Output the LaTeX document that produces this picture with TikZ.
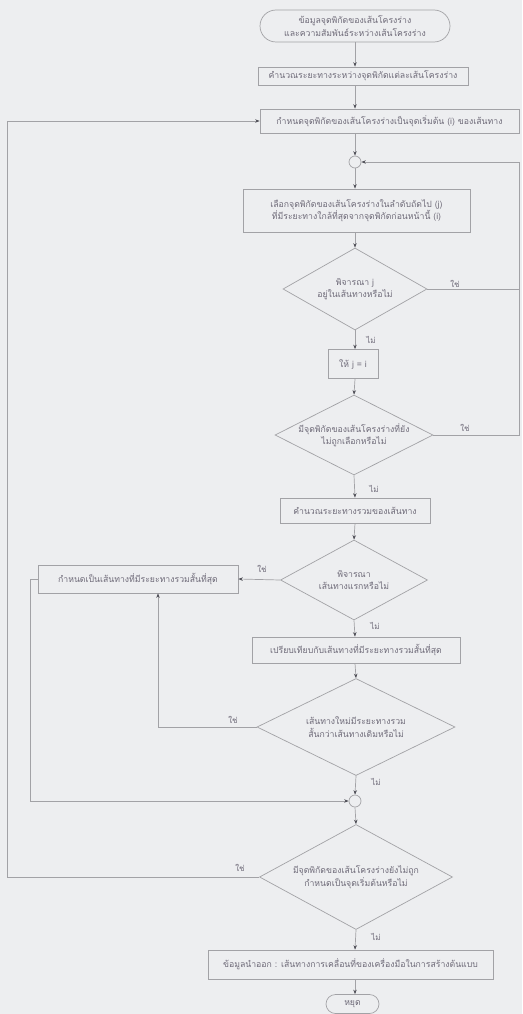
\documentclass[tikz,border=0pt]{standalone}
\usepackage{fontspec}
\newfontfamily\thai[Script=Thai]{Loma}
\usetikzlibrary{shapes.geometric,shapes.misc,arrows.meta}
\definecolor{bg}{HTML}{EDEEF0}
\definecolor{ln}{HTML}{A2A2A6}
\definecolor{tx}{HTML}{6E6A78}
\definecolor{ah}{HTML}{505058}
\begin{document}
\begin{tikzpicture}[x=1pt,y=-1pt,
  every node/.style={font=\thai\fontsize{8.7}{12.5}\selectfont, text=tx, inner sep=0pt, align=center},
  proc/.style={draw=ln, line width=0.7pt, rectangle},
  term/.style={draw=ln, line width=0.7pt, rounded rectangle},
  dec/.style={draw=ln, line width=0.7pt, diamond, inner xsep=-36pt, inner ysep=-9pt},
  conn/.style={draw=ln, line width=0.7pt, circle, minimum size=12pt},
  lab/.style={font=\thai\fontsize{8}{9}\selectfont},
  line/.style={draw=ln, line width=0.7pt},
  arr/.style={line, -{Stealth[length=4.5pt,width=3.5pt,color=ah]}}
]
\fill[bg] (0,0) rectangle (522,1014);
\useasboundingbox (0,0) rectangle (522,1014);

\coordinate (fx) at (355,0);
\coordinate (lx) at (7,0);
\coordinate (rx) at (519,0);
\coordinate (mx) at (30,0);
\coordinate (bx) at (158,0);

\node[term, minimum width=190pt, minimum height=32pt] (S) at (355,26) {ข้อมูลจุดพิกัดของเส้นโครงร่าง\\และความสัมพันธ์ระหว่างเส้นโครงร่าง};
\node[proc, minimum width=210pt, minimum height=18pt] (B2) at (363,76) {คำนวณระยะทางระหว่างจุดพิกัดแต่ละเส้นโครงร่าง};
\node[proc, minimum width=259pt, minimum height=24pt] (B3) at (389.5,121) {กำหนดจุดพิกัดของเส้นโครงร่างเป็นจุดเริ่มต้น (i) ของเส้นทาง};
\node[conn] (C1) at (355,162) {};
\node[proc, minimum width=227pt, minimum height=43pt] (B5) at (356.5,210.5) {เลือกจุดพิกัดของเส้นโครงร่างในลำดับถัดไป (j)\\ที่มีระยะทางใกล้ที่สุดจากจุดพิกัดก่อนหน้านี้ (i)};
\node[dec, minimum width=144pt, minimum height=82pt] (D1) at (355,289) {พิจารณา j\\อยู่ในเส้นทางหรือไม่};
\node[proc, minimum width=50pt, minimum height=29pt] (B7) at (353,364) {ให้ j = i};
\node[dec, minimum width=158pt, minimum height=80pt] (D2) at (354,435) {มีจุดพิกัดของเส้นโครงร่างที่ยัง\\ไม่ถูกเลือกหรือไม่};
\node[proc, minimum width=150pt, minimum height=25pt] (B9) at (355,510.5) {คำนวณระยะทางรวมของเส้นทาง};
\node[dec, minimum width=147pt, minimum height=80pt] (D3) at (354,580) {พิจารณา\\เส้นทางแรกหรือไม่};
\node[proc, minimum width=200pt, minimum height=28pt] (BL) at (138,579) {กำหนดเป็นเส้นทางที่มีระยะทางรวมสั้นที่สุด};
\node[proc, minimum width=208pt, minimum height=26pt] (B11) at (356,650) {เปรียบเทียบกับเส้นทางที่มีระยะทางรวมสั้นที่สุด};
\node[dec, minimum width=198pt, minimum height=97pt] (D4) at (356,727) {เส้นทางใหม่มีระยะทางรวม\\สั้นกว่าเส้นทางเดิมหรือไม่};
\node[conn] (C2) at (355,801) {};
\node[dec, minimum width=193pt, minimum height=105pt] (D5) at (356,877) {มีจุดพิกัดของเส้นโครงร่างยังไม่ถูก\\กำหนดเป็นจุดเริ่มต้นหรือไม่};
\node[proc, minimum width=285pt, minimum height=29pt] (B13) at (350.5,964.5) {ข้อมูลนำออก : เส้นทางการเคลื่อนที่ของเครื่องมือในการสร้างต้นแบบ};
\node[term, minimum width=53pt, minimum height=19pt] (E) at (352.5,1004) {หยุด};

% main flow
\draw[arr] (S.south -| fx) -- (B2.north -| fx);
\draw[arr] (B2.south -| fx) -- (B3.north -| fx);
\draw[arr] (B3.south -| fx) -- (C1.north);
\draw[arr] (C1.south) -- (B5.north -| fx);
\draw[arr] (B5.south -| fx) -- (D1.north);
\draw[arr] (D1.south) -- (B7.north -| fx);
\draw[arr] (B7.south -| fx) -- (D2.north);
\draw[arr] (D2.south) -- (B9.north -| fx);
\draw[arr] (B9.south -| fx) -- (D3.north);
\draw[arr] (D3.south) -- (B11.north -| fx);
\draw[arr] (B11.south -| fx) -- (D4.north);
\draw[arr] (D4.south) -- (C2.north);
\draw[arr] (C2.south) -- (D5.north);
\draw[arr] (D5.south) -- (B13.north -| fx);
\draw[arr] (B13.south -| fx) -- (E.north -| fx);

% loops
\draw[arr] (D1.east) -- (D1.east -| rx) -- (C1.east -| rx) -- (C1.east);
\draw[line] (D2.east) -- (D2.east -| rx) -- (D1.east -| rx);
\draw[arr] (D3.west) -- (BL.east);
\draw[arr] (D4.west) -- (D4.west -| bx) -- (BL.south -| bx);
\draw[arr] (BL.west) -- (BL.west -| mx) -- (C2.west -| mx) -- (C2.west);
\draw[arr] (D5.west) -- (D5.west -| lx) -- (B3.west -| lx) -- (B3.west);

% labels
\node[lab] at (455,284) {ใช่};
\node[lab] at (371,340) {ไม่};
\node[lab] at (465,428) {ใช่};
\node[lab] at (374,489) {ไม่};
\node[lab] at (262,569) {ใช่};
\node[lab] at (375,626) {ไม่};
\node[lab] at (233,720) {ใช่};
\node[lab] at (376,782) {ไม่};
\node[lab] at (240,868) {ใช่};
\node[lab] at (376,937) {ไม่};
\end{tikzpicture}
\end{document}
